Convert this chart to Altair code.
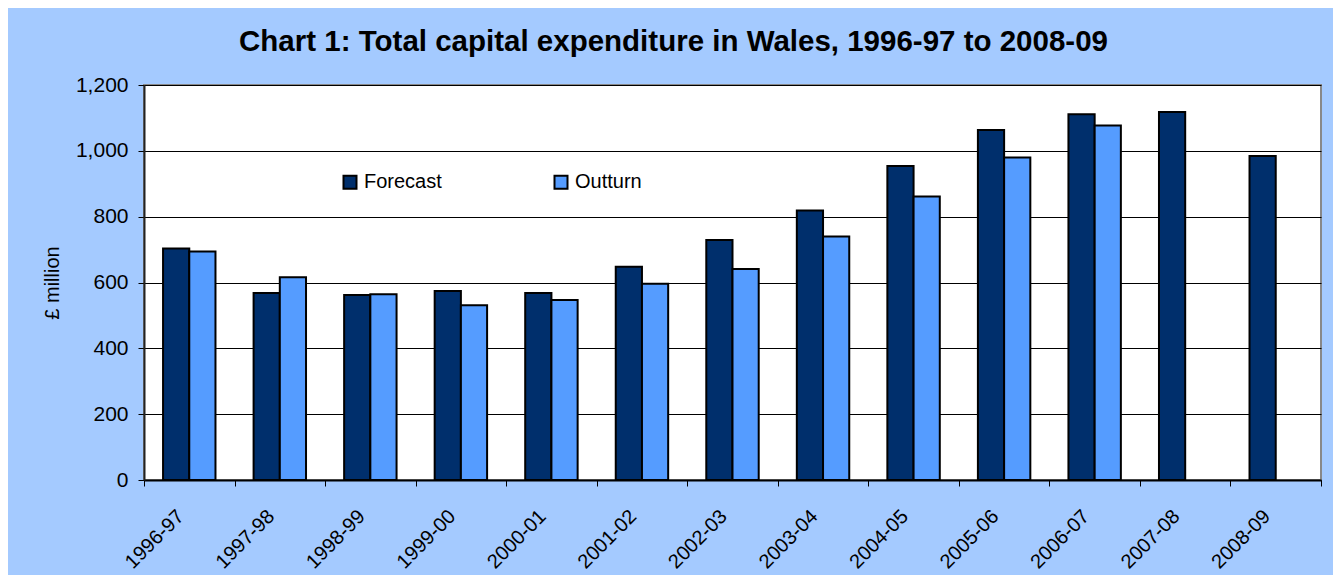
import altair as alt
import pandas as pd

years = ["1996-97", "1997-98", "1998-99", "1999-00", "2000-01", "2001-02", "2002-03",
         "2003-04", "2004-05", "2005-06", "2006-07", "2007-08", "2008-09"]
forecast = [703, 568, 562, 574, 568, 648, 729, 819, 954, 1063, 1111, 1118, 984]
outturn = [694, 616, 564, 531, 547, 596, 641, 740, 861, 980, 1077, None, None]
series_names = ["Forecast", "Outturn"]
series_colors = ["#002F6C", "#559CFF"]
y_ticks = [0, 200, 400, 600, 800, 1000, 1200]

rows = []
for i, yr in enumerate(years):
    rows.append({"year": yr, "series": "Forecast", "value": forecast[i]})
    if outturn[i] is not None:
        rows.append({"year": yr, "series": "Outturn", "value": outturn[i]})
df = pd.DataFrame(rows)

FONT = "Liberation Sans"

chart = alt.Chart(df).mark_bar(stroke="black", strokeWidth=2).encode(
    x=alt.X("year:N", sort=years, title=None,
            scale=alt.Scale(paddingInner=0, paddingOuter=0),
            axis=alt.Axis(labelAngle=-45, labelAlign="right", labelBaseline="middle",
                          labelFontSize=20, labelPadding=27, labelOffset=-9,
                          tickBand="extent",
                          tickSize=6, tickColor="#000", domainColor="#000",
                          domainWidth=2, grid=False, labelColor="#000")),
    xOffset=alt.XOffset("series:N", sort=series_names,
                        scale=alt.Scale(domain=series_names, paddingInner=0, paddingOuter=0.727)),
    y=alt.Y("value:Q", title="£ million",
            scale=alt.Scale(domain=[0, 1200], nice=False),
            axis=alt.Axis(values=y_ticks, format=",d", labelFontSize=21, labelPadding=10,
                          tickSize=6, tickColor="#000", domainColor="#222", domainWidth=2,
                          grid=True, gridColor="#000", gridWidth=1,
                          titleFontSize=20, titleFontWeight="normal", titlePadding=13,
                          labelColor="#000", titleColor="#000")),
    color=alt.Color("series:N", title=None,
                    scale=alt.Scale(domain=series_names, range=series_colors),
                    legend=alt.Legend(orient="none", legendX=196, legendY=87,
                                      direction="horizontal", columns=2,
                                      symbolType="square", symbolSize=169,
                                      symbolStrokeColor="black", symbolStrokeWidth=2,
                                      labelFontSize=20, labelOffset=4, columnPadding=108,
                                      padding=0, labelColor="#000")),
).properties(
    width=1177,
    height=395,
    title=alt.TitleParams("Chart 1: Total capital expenditure in Wales, 1996-97 to 2008-09",
                          fontSize=29.5, fontWeight="bold", font=FONT, color="#000",
                          anchor="middle", dx=-59, offset=17),
    padding={"left": 136, "top": 77, "right": 12, "bottom": 95},
    autosize=alt.AutoSizeParams(type="none"),
    background="#A4CAFF",
).configure(
    font=FONT,
).configure_view(
    fill="white", stroke="#888", strokeWidth=2,
).configure_axis(
    labelFont=FONT, titleFont=FONT,
).configure_legend(
    labelFont=FONT,
)

chart.save("out.html", embed_options={"renderer": "svg", "actions": False})
